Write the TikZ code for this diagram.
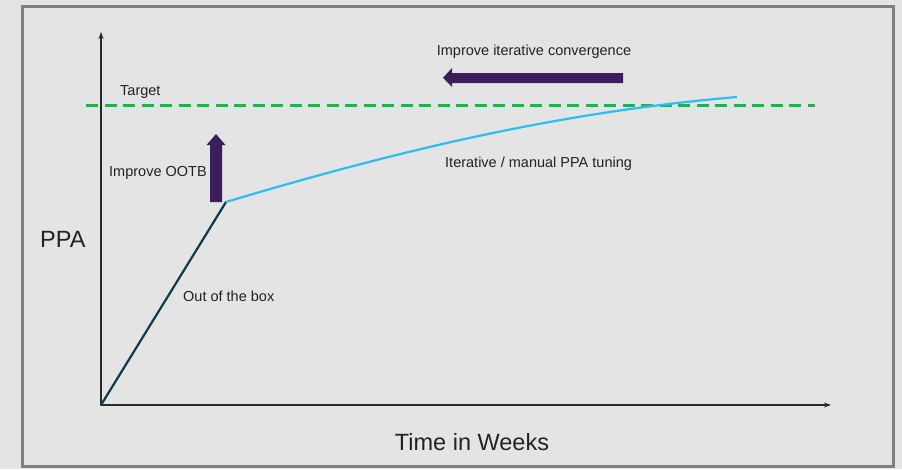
\documentclass[tikz,border=0pt]{standalone}
\usepackage{fontspec}
\setmainfont{Liberation Sans}
\usetikzlibrary{arrows.meta}
\definecolor{bgcol}{HTML}{E4E4E4}
\definecolor{framecol}{HTML}{808080}
\definecolor{axiscol}{HTML}{2A2A2A}
\definecolor{ootbcol}{HTML}{0E3A4C}
\definecolor{tunecol}{HTML}{2BBDF7}
\definecolor{targetcol}{HTML}{22B150}
\definecolor{arrowcol}{HTML}{3B1F5C}
\definecolor{txtcol}{HTML}{222222}
\tikzset{
  axis/.style={draw=axiscol, line width=1.2pt, -{Stealth[length=7pt,width=5pt]}},
  small/.style={text=txtcol, font=\fontsize{14.5}{16}\selectfont, inner sep=0pt, anchor=west},
  big/.style={text=txtcol, font=\fontsize{23.5}{27}\selectfont, inner sep=0pt},
  fatarrow/.style={fill=arrowcol, draw=none},
}
\begin{document}
\begin{tikzpicture}[x=1pt,y=-1pt]
  % page and frame
  \fill[bgcol] (0,0) rectangle (902,469);
  \useasboundingbox (0,0) rectangle (902,469);
  \draw[framecol, line width=3pt] (22,6) rectangle (893,466);

  % key points of the chart
  \coordinate (O) at (101,405);
  \coordinate (K) at (226,202);
  \coordinate (E) at (737,97);
  \coordinate (ytop) at (101,32);
  \coordinate (xend) at (831,405);
  \coordinate (tl) at (86,105);
  \coordinate (tr) at (815,105);

  % axes
  \draw[axis] (O) -- (ytop);
  \draw[axis] (O) -- (xend);

  % target level
  \draw[targetcol, line width=3pt, dash pattern=on 12pt off 6.5pt] (tl) -- (tr);

  % out-of-the-box ramp and iterative tuning curve
  \draw[ootbcol, line width=2.2pt, line cap=round] (O) -- (K);
  \draw[tunecol, line width=2.2pt] (K) .. controls (400,150) and (560,112) .. (E);

  % block arrows
  \fill[fatarrow] (210,202) -- (210,145) -- (206.5,145) -- (216,134) -- (225.5,145) -- (222,145) -- (222,202) -- cycle;
  \fill[fatarrow] (623,73) -- (452,73) -- (452,68) -- (443,77.7) -- (452,87) -- (452,83) -- (623,83) -- cycle;

  % labels
  \node[small] (target) at (120,92.5) {Target};
  \node[small, anchor=center] (conv) at (534,51.5) {Improve iterative convergence};
  \node[small] (ootbup) at (109,173) {Improve OOTB};
  \node[small] (tuning) at (445,164) {Iterative / manual PPA tuning};
  \node[small] (ootb) at (183,296) {Out of the box};
  \node[big, anchor=west] (ppa) at (40,239) {PPA};
  \node[big] (time) at (472,442) {Time in Weeks};
\end{tikzpicture}
\end{document}
